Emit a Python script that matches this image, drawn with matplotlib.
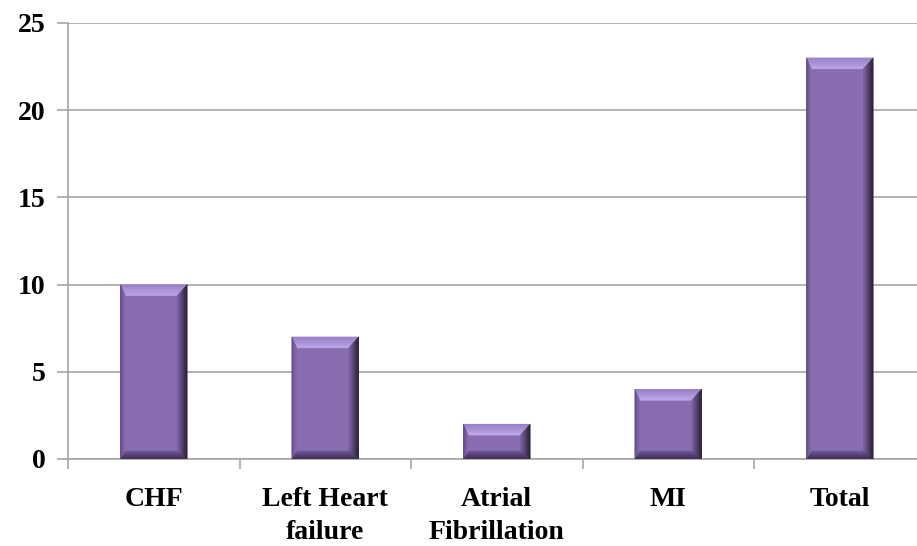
import numpy as np
import matplotlib.pyplot as plt
import matplotlib.colors as mcolors
from matplotlib.patches import Polygon

# datos del grafico
categorias = ['CHF', 'Left Heart\nfailure', 'Atrial\nFibrillation', 'MI', 'Total']
valores = [10, 7, 2, 4, 23]
ticks_y = [0, 5, 10, 15, 20, 25]

color_base = '#8a6db1'
gris = '#a6a6a6'

plt.rcParams['font.family'] = ['Liberation Serif', 'DejaVu Serif']

fig = plt.figure(figsize=(9.17, 5.46), dpi=100)
ax = fig.add_axes([68 / 917, 87 / 546, 857.5 / 917, 436 / 546])

x = np.arange(len(valores)) + 0.5
ancho = 0.39
ax.set_xlim(0, len(valores))
ax.set_ylim(0, 25)

barras = ax.bar(x, valores, width=ancho, color=color_base, zorder=2)


def mezclar(c1, c2, t):
    a = np.array(mcolors.to_rgb(c1))
    b = np.array(mcolors.to_rgb(c2))
    return a + (b - a) * t


def bisel(ax, exterior, interior, c_ext, c_int, n=10):
    # trapecio dividido en franjas para simular un degradado
    exterior = np.array(exterior, float)
    interior = np.array(interior, float)
    for i in range(n):
        t0, t1 = i / n, (i + 1) / n
        p0 = exterior + (interior - exterior) * t0
        p1 = exterior + (interior - exterior) * t1
        pts = [p0[0], p0[1], p1[1], p1[0]]
        ax.add_patch(Polygon(pts, closed=True, lw=0.3,
                             color=mezclar(c_ext, c_int, (i + 0.5) / n), zorder=3))


# tamano del bisel en unidades de datos (a partir de pixeles)
fig.canvas.draw()
p0 = ax.transData.transform((0, 0))
p1 = ax.transData.transform((1, 1))
px_x = p1[0] - p0[0]
px_y = p1[1] - p0[1]
dxr = 10 / px_x
dxl = 5 / px_x
dyt = 11 / px_y
dyb = 8 / px_y

for b in barras:
    x0 = b.get_x()
    x1 = x0 + b.get_width()
    y0 = 0
    y1 = b.get_height()
    # arriba
    bisel(ax, [(x0, y1), (x1, y1)], [(x0 + dxl, y1 - dyt), (x1 - dxr, y1 - dyt)],
          '#9a80c8', '#c0aaea')
    # derecha
    bisel(ax, [(x1, y1), (x1, y0)], [(x1 - dxr, y1 - dyt), (x1 - dxr, y0 + dyb)],
          '#201828', '#7e64a8')
    # abajo
    bisel(ax, [(x1, y0), (x0, y0)], [(x1 - dxr, y0 + dyb), (x0 + dxl, y0 + dyb)],
          '#352848', '#6f559a')
    # izquierda
    bisel(ax, [(x0, y0), (x0, y1)], [(x0 + dxl, y0 + dyb), (x0 + dxl, y1 - dyt)],
          '#5e4885', '#8a6db1', n=5)

# ejes y rejilla
ax.set_yticks(ticks_y)
ax.set_yticklabels([str(t) for t in ticks_y], fontsize=20, fontweight='bold')
ax.yaxis.grid(True, color=gris, lw=1.2, zorder=0)
ax.set_axisbelow(True)

ax.set_xticks(np.arange(len(valores) + 1))
ax.set_xticklabels([])
ax.set_xticks(x, minor=True)
ax.set_xticklabels(categorias, minor=True, fontsize=20, fontweight='bold',
                   linespacing=1.42)
ax.tick_params(axis='x', which='major', length=7, color=gris, width=1.2)
ax.tick_params(axis='x', which='minor', length=0, pad=20)
ax.tick_params(axis='y', length=8, color=gris, width=1.2, pad=8)

for lado in ['top', 'right']:
    ax.spines[lado].set_visible(False)
for lado in ['left', 'bottom']:
    ax.spines[lado].set_color(gris)
    ax.spines[lado].set_linewidth(1.2)

fig.savefig('out.png', dpi=100)
